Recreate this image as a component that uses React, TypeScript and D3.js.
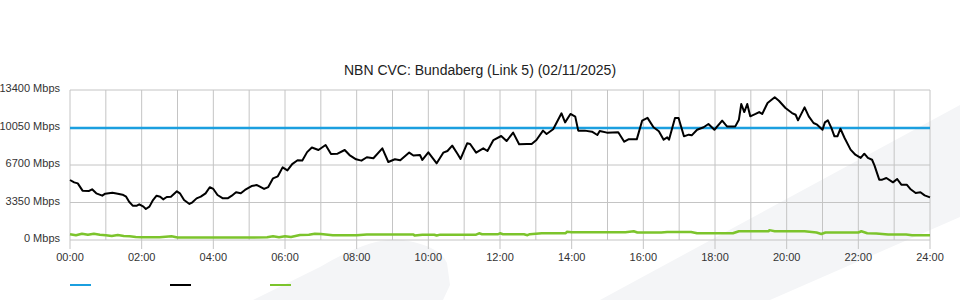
import React from "react";
import * as d3 from "d3";

// ---- Data ----
const title = "NBN CVC: Bundaberg (Link 5) (02/11/2025)";
const yTickValues = [0, 3350, 6700, 10050, 13400];
const yTickLabels = ["0 Mbps", "3350 Mbps", "6700 Mbps", "10050 Mbps", "13400 Mbps"];
const xTickHours = [0, 2, 4, 6, 8, 10, 12, 14, 16, 18, 20, 22, 24];
const xTickLabels = ["00:00", "02:00", "04:00", "06:00", "08:00", "10:00", "12:00", "14:00", "16:00", "18:00", "20:00", "22:00", "24:00"];
const gridHours = d3.range(0, 25);

// capacity (blue), minutes of day
const capacityMinutes = [0, 1440];
const capacityValues = [10000, 10000];

// utilisation (black), minutes of day
const trafficMinutes = [
  0, 7, 13, 21, 32, 37, 44, 54, 59, 71, 80, 88, 94, 99, 105, 112, 116, 123, 127, 133,
  139, 145, 151, 156, 162, 169, 179, 184, 191, 200, 205, 212, 219, 227, 234, 240, 247, 256, 264, 271,
  278, 286, 293, 304, 313, 318, 325, 332, 340, 348, 356, 364, 372, 381, 389, 397, 405, 416, 428, 437,
  448, 460, 468, 479, 488, 497, 508, 523, 533, 544, 553, 568, 575, 586, 590, 600, 614, 625, 632, 640,
  649, 654, 665, 670, 680, 692, 699, 709, 722, 731, 742, 752, 765, 773, 781, 792, 798, 809, 823, 829,
  838, 846, 851, 862, 874, 883, 887, 899, 918, 928, 935, 949, 958, 967, 977, 986, 994, 1000, 1003, 1013,
  1019, 1028, 1036, 1041, 1050, 1061, 1069, 1079, 1092, 1100, 1114, 1120, 1124, 1129, 1134, 1139, 1148, 1154, 1159, 1168,
  1180, 1187, 1198, 1209, 1215, 1219, 1230, 1237, 1245, 1251, 1260, 1264, 1269, 1275, 1280, 1285, 1290, 1297, 1307, 1315,
  1324, 1330, 1336, 1343, 1347, 1355, 1360, 1367, 1378, 1385, 1392, 1401, 1407, 1416, 1424, 1431, 1440,
];
const trafficValues = [
  5360, 5150, 5060, 4410, 4380, 4530, 4170, 3960, 4140, 4230, 4140, 4050, 3870, 3420, 3070, 3070, 3190, 2980, 2770, 2980,
  3570, 3960, 3870, 3630, 3840, 3870, 4350, 4170, 3570, 3220, 3370, 3720, 3870, 4170, 4710, 4560, 4020, 3720, 3720, 3960,
  4260, 4170, 4470, 4820, 4910, 4760, 4560, 4730, 5510, 5690, 6490, 6220, 6780, 7120, 7100, 7850, 8265, 8040, 8490, 7680,
  7710, 8040, 7590, 7210, 7090, 7390, 7300, 8190, 6970, 7210, 7120, 7810, 7550, 7590, 7150, 7830, 6850, 7800, 7950, 8430,
  7680, 7240, 8640, 8580, 7800, 8190, 7950, 8930, 9290, 8840, 9590, 8550, 8580, 8580, 8930, 9770, 9470, 9890, 11320, 10510,
  11260, 11020, 9770, 9770, 9680, 9380, 9740, 9590, 9620, 8780, 8990, 8990, 10660, 10910, 10070, 9710, 8960, 9170, 8960, 10900,
  10900, 9260, 9410, 9350, 9850, 10070, 10360, 9850, 10660, 10150, 10150, 10750, 12150, 11430, 12150, 11050, 11260, 11430, 11260, 12240,
  12750, 12440, 11790, 11340, 11190, 10690, 11850, 11050, 10450, 10300, 9850, 10510, 10690, 10000, 9260, 9260, 9940, 9110, 8070, 7620,
  7330, 7710, 7330, 7170, 6670, 5390, 5390, 5540, 5150, 5450, 4940, 4940, 4560, 4200, 4260, 3990, 3810,
];

// secondary (green), minutes of day
const greenMinutes = [
  0, 10, 20, 30, 40, 50, 60, 70, 80, 90, 100, 110, 120, 150, 170, 180, 240, 300, 330, 340,
  350, 360, 370, 385, 400, 410, 420, 440, 480, 497, 575, 577, 590, 610, 614, 620, 680, 685, 690, 716,
  720, 725, 760, 766, 770, 790, 830, 832, 840, 900, 930, 944, 950, 990, 1000, 1040, 1050, 1110, 1120, 1170,
  1171, 1180, 1230, 1250, 1258, 1265, 1320, 1325, 1335, 1350, 1370, 1400, 1410, 1440,
];
const greenValues = [
  510, 430, 560, 460, 560, 470, 430, 360, 440, 360, 330, 260, 240, 240, 330, 230, 230, 230, 240, 330,
  250, 340, 260, 450, 460, 560, 540, 420, 420, 490, 490, 400, 470, 470, 400, 480, 480, 600, 510, 510,
  600, 510, 510, 430, 520, 600, 600, 730, 690, 690, 700, 780, 670, 670, 720, 720, 600, 600, 780, 780,
  880, 780, 780, 670, 540, 670, 670, 780, 600, 580, 490, 490, 420, 420,
];

const W = 960;
const H = 300;
const margin = { left: 70, right: 30, top: 90, bottom: 60 };
const font = "'Liberation Sans', Arial, sans-serif";

export default function App() {
  const x = d3.scaleLinear().domain([0, 24 * 60]).range([margin.left, W - margin.right]);
  const y = d3.scaleLinear().domain([0, 13400]).range([H - margin.bottom, margin.top]);
  const line = d3
    .line<[number, number]>()
    .x((d) => x(d[0]))
    .y((d) => y(d[1]));

  const zip = (a: number[], b: number[]) => a.map((m, i) => [m, b[i]] as [number, number]);
  const y0 = y(0);
  const yTop = y(13400);

  return (
    <svg
      width={W}
      height={H}
      style={{ position: "absolute", left: 0, top: 0, background: "#fff" }}
      fontFamily={font}
    >
      {/* background watermark shapes */}
      <path d="M600,300 L960,105 L960,217 L770,300 Z" fill="#f4f5f7" />
      <path d="M253,300 L320,267 Q372,236 403,240 Q440,246 447,263 L450,285 L443,300 Z" fill="#f4f5f7" />

      {/* grid */}
      {yTickValues.map((v) => (
        <line key={"h" + v} x1={x(0)} x2={x(1440)} y1={y(v)} y2={y(v)} stroke="#c4c4c4" strokeWidth={1} />
      ))}
      {gridHours.map((h) => (
        <line
          key={"v" + h}
          x1={x(h * 60)}
          x2={x(h * 60)}
          y1={yTop}
          y2={h % 2 === 0 ? y0 + 9 : y0}
          stroke="#c4c4c4"
          strokeWidth={1}
        />
      ))}

      {/* axis labels */}
      {yTickValues.map((v, i) => (
        <text key={"yl" + v} x={60} y={y(v) + 2} textAnchor="end" fontSize={11} fill="#333">
          {yTickLabels[i]}
        </text>
      ))}
      {xTickHours.map((h, i) => (
        <text key={"xl" + h} x={x(h * 60)} y={y0 + 21} textAnchor="middle" fontSize={11} fill="#333">
          {xTickLabels[i]}
        </text>
      ))}

      {/* series */}
      <path d={line(zip(greenMinutes, greenValues)) || ""} fill="none" stroke="#7cc42c" strokeWidth={2.5} strokeLinejoin="round" />
      <path d={line(zip(capacityMinutes, capacityValues)) || ""} fill="none" stroke="#1b9fdf" strokeWidth={2.5} />
      <path d={line(zip(trafficMinutes, trafficValues)) || ""} fill="none" stroke="#000" strokeWidth={2} strokeLinejoin="round" />

      {/* title */}
      <text x={480} y={75} textAnchor="middle" fontSize={14} fill="#222">
        {title}
      </text>

      {/* legend */}
      <line x1={70} x2={91} y1={285} y2={285} stroke="#1b9fdf" strokeWidth={2} />
      <line x1={170} x2={191} y1={285} y2={285} stroke="#000" strokeWidth={2} />
      <line x1={270} x2={291} y1={285} y2={285} stroke="#7cc42c" strokeWidth={2} />
    </svg>
  );
}
